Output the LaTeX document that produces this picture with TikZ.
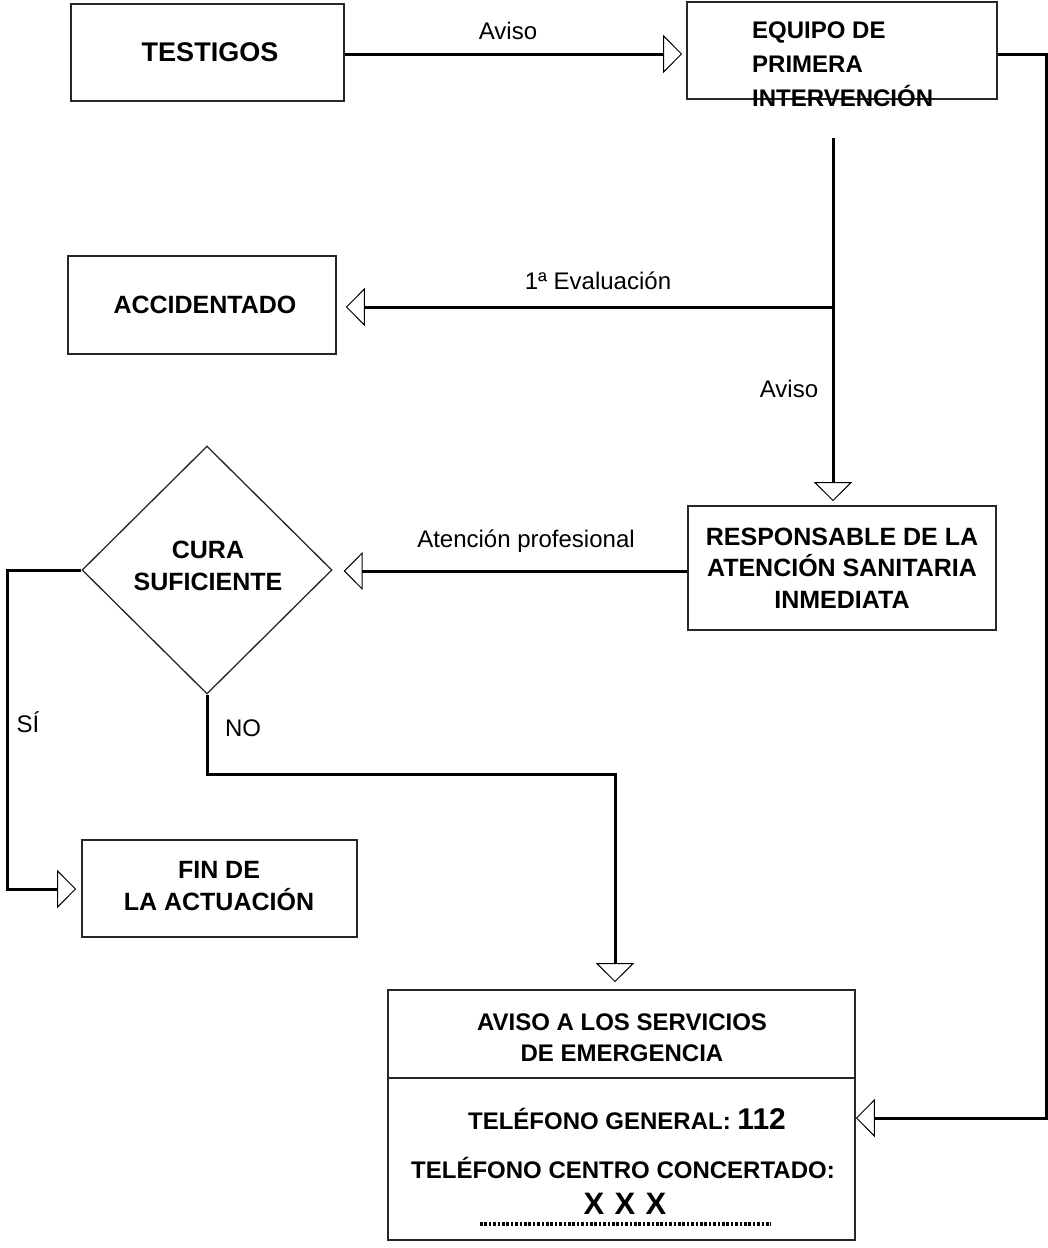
\documentclass[tikz,border=0pt]{standalone}
\usepackage{fontspec}
\setmainfont{Liberation Sans}
\usetikzlibrary{arrows.meta,shapes.geometric}
\begin{document}
\begin{tikzpicture}[x=1pt,y=-1pt,
  box/.style={draw=black!85,line width=1.6pt,rectangle,inner sep=0pt},
  bold/.style={font=\bfseries\fontsize{25}{31.5}\selectfont,align=center},
  lbl/.style={font=\fontsize{24}{28}\selectfont,inner sep=0pt},
  conn/.style={line width=3pt,-{Triangle[open,length=19pt,width=38pt,line width=1pt]}},
  plain/.style={line width=3pt}]
\useasboundingbox[fill=white] (0,0) rectangle (1048,1248);

% boxes
\node[box,minimum width=273pt,minimum height=97pt] (tes) at (207.5,52.5) {};
\node[bold,font=\bfseries\fontsize{27}{30}\selectfont] at (210,52) {TESTIGOS};

\node[box,minimum width=310pt,minimum height=97pt] (eq) at (842,50.5) {};
\node[bold,align=left,anchor=north west,inner sep=0pt,font=\bfseries\fontsize{24}{34}\selectfont] (eqt) at (752,22)
  {EQUIPO DE\\PRIMERA\\INTERVENCIÓN};

\node[box,minimum width=268pt,minimum height=98pt] (acc) at (202,305) {};
\node[bold] at (205,305) {ACCIDENTADO};

\node[box,minimum width=308pt,minimum height=124pt] (resp) at (842,568) {};
\node[bold] at (842,568) {RESPONSABLE DE LA\\ATENCIÓN SANITARIA\\INMEDIATA};

\node[draw=black!85,line width=1.3pt,diamond,minimum width=250pt,minimum height=248pt,inner sep=0pt] (cura) at (207,570) {};
\node[bold] at (208,566) {CURA\\SUFICIENTE};

\node[box,minimum width=275pt,minimum height=97pt] (fin) at (219.5,888.5) {};
\node[bold] at (219,886) {FIN DE\\LA ACTUACIÓN};

\node[box,minimum width=467pt,minimum height=250pt] (aviso) at (621.5,1115) {};
\draw[draw=black!85,line width=1.6pt] (aviso.west |- 0,1078) -- (aviso.east |- 0,1078);
\node[bold,font=\bfseries\fontsize{24}{31}\selectfont] at (622,1038) {AVISO A LOS SERVICIOS\\DE EMERGENCIA};
\node[bold,font=\bfseries\fontsize{24}{28}\selectfont] at (627,1119)
  {TELÉFONO GENERAL: {\fontsize{30}{32}\selectfont 112}};
\node[bold,font=\bfseries\fontsize{24}{28}\selectfont] at (623,1168) {TELÉFONO CENTRO CONCERTADO:};
\node[bold,font=\bfseries\fontsize{31}{34}\selectfont] at (625,1204) {X\,\,X\,\,X};
\draw[line width=3.2pt,dash pattern=on 2.6pt off 1.8pt] (480,1224) -- (771,1224);

% connectors
\coordinate (top) at (833,138);
\coordinate (split) at (833,307);
\coordinate (cleft) at (7,570);
\coordinate (cdown) at (207,774);
\coordinate (cturn) at (615,774);
\coordinate (rtop) at (1046,54);
\coordinate (rbot) at (1046,1118);

\draw[conn,shorten >=4pt] (tes.east |- 0,54) -- (eq.west |- 0,54);
\node[lbl] at (508,31) {Aviso};

\draw[conn,shorten >=4pt] (top) -- (resp.north -| top);
\draw[conn,shorten >=9pt] (split) -- (acc.east |- split);
\node[lbl] at (598,281) {1ª Evaluación};
\node[lbl] at (789,389) {Aviso};

\draw[conn,shorten >=11pt] (resp.west |- 0,571) -- (cura.east |- 0,571);
\node[lbl] at (526,541) {Atención profesional};

\draw[conn,shorten >=5pt] (cura.west) -- (cleft) |- (fin.west |- 0,889);
\node[lbl] at (28,722) {SÍ};

\draw[conn,shorten >=7pt] (cura.south) -- (cdown) -- (cturn) -- (aviso.north -| cturn);
\node[lbl] at (243,728) {NO};

\draw[conn] (eq.east |- rtop) -- (rtop) -- (rbot) -- (aviso.east |- rbot);
\end{tikzpicture}
\end{document}
